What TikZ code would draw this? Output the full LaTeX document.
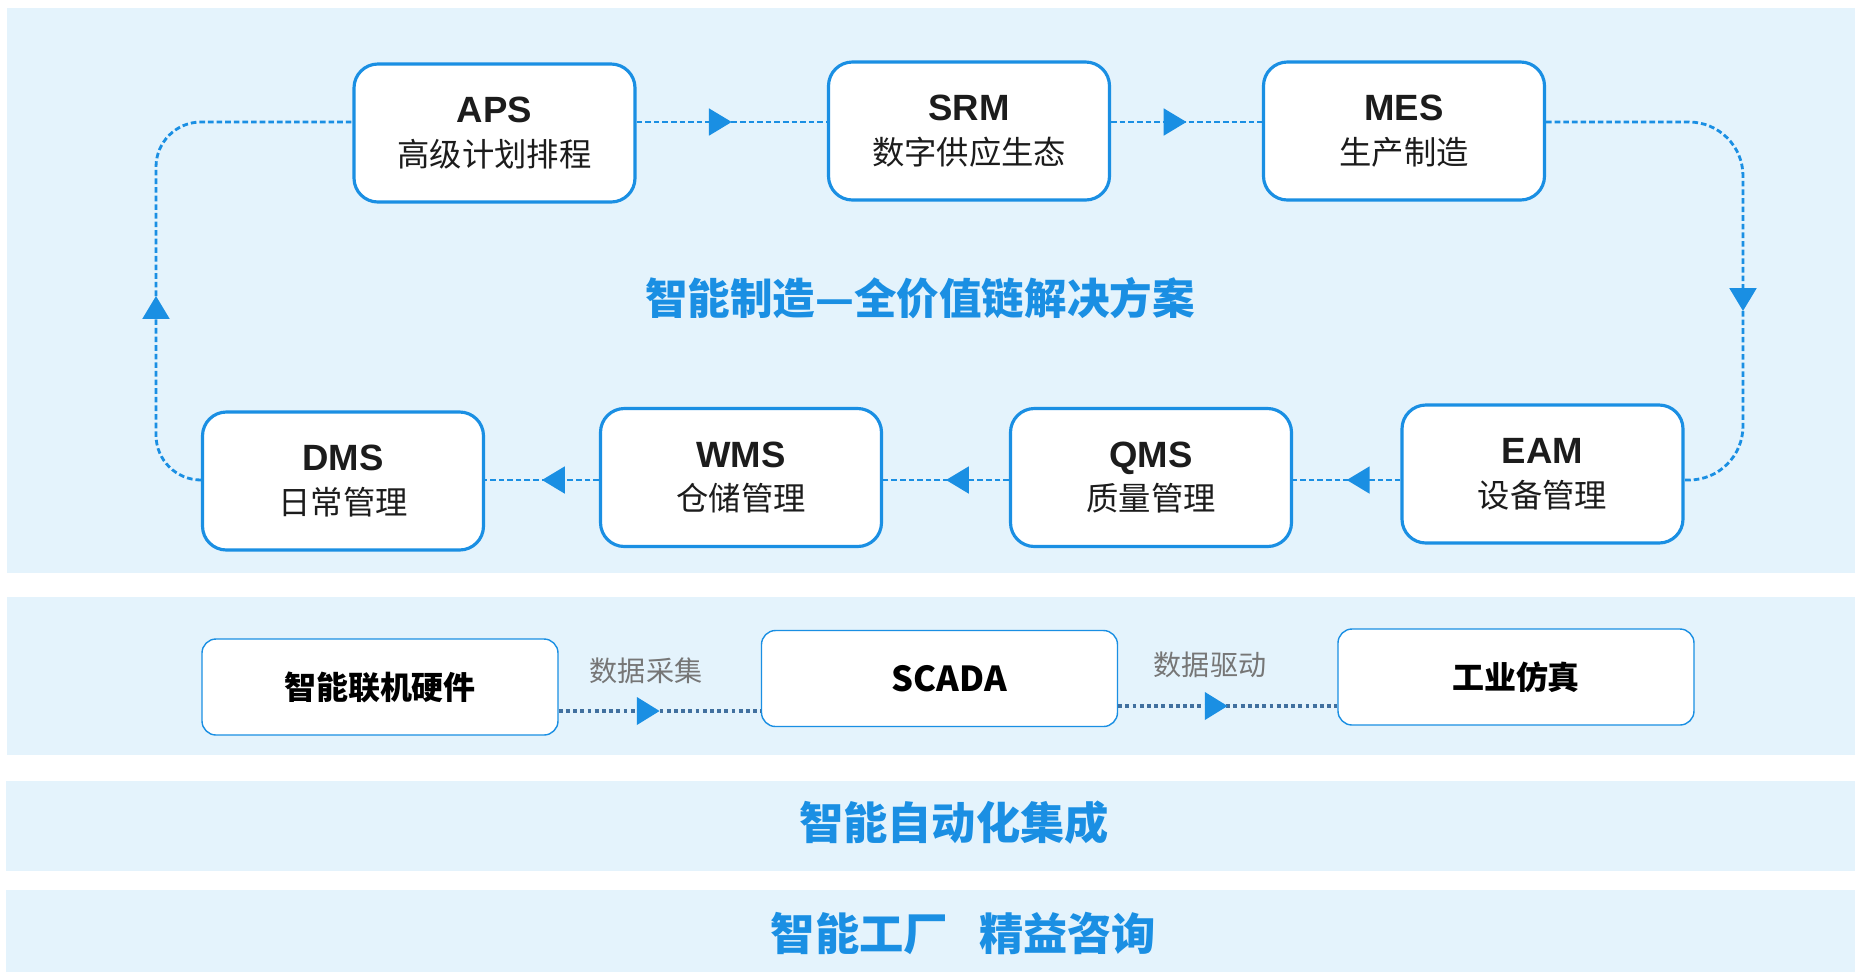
\documentclass[tikz,border=0pt]{standalone}
\usepackage{fontspec}
\setmainfont{Liberation Sans}
\newfontfamily\cjk{Noto Sans CJK SC}
\usetikzlibrary{arrows.meta, positioning, calc, decorations.markings}

\definecolor{panelblue}{HTML}{E4F3FC}
\definecolor{flowblue}{HTML}{1A8FE3}
\definecolor{dotblue}{HTML}{41709F}
\definecolor{notegray}{HTML}{767676}
\definecolor{inkblack}{HTML}{1C1C1C}

\begin{document}
\begin{tikzpicture}[
    modbox/.style={draw=flowblue, line width=0.9pt, fill=white, rounded corners=6.8pt,
        minimum width=2.81cm, minimum height=1.38cm, inner sep=0pt, align=center,
        text=inkblack, font=\cjk\fontsize{9.2}{12.5}\selectfont},
    linkbox/.style={draw=flowblue, line width=0.4pt, fill=white, rounded corners=4pt,
        minimum width=3.56cm, minimum height=0.96cm, inner sep=0pt,
        text=black, font=\cjk\bfseries\fontsize{9.1}{11}\selectfont},
    flowline/.style={flowblue, line width=0.8pt, dash pattern=on 1.6pt off 0.85pt},
    dataline/.style={dotblue, line width=1.3pt, dash pattern=on 1.1pt off 0.95pt},
    midarrow/.style={postaction={decorate}, decoration={markings,
        mark=at position 0.5 with {\arrow{Triangle[length=6.5pt, width=7.6pt, color=flowblue]}}}},
    tip/.style={-{Triangle[length=6.5pt, width=7.6pt]}},
    banner/.style={text=flowblue, font=\cjk\bfseries\fontsize{12.6}{15}\selectfont}
]
    \useasboundingbox (0,0) rectangle (18.55,-9.72);

    % =========================================================
    % BACKGROUND BANDS
    % =========================================================
    \fill[panelblue] (0.07,-0.08) rectangle (18.55,-5.73);
    \fill[panelblue] (0.07,-5.97) rectangle (18.55,-7.55);
    \fill[panelblue] (0.06,-7.81) rectangle (18.55,-8.71);
    \fill[panelblue] (0.06,-8.90) rectangle (18.55,-9.72);

    % lanes the loop runs along
    \coordinate (toplane) at (0,-1.22);
    \coordinate (lowlane) at (0,-4.80);
    \coordinate (rightmid) at (17.43,-3.11);
    \coordinate (leftmid) at (1.56,-2.96);

    % =========================================================
    % VALUE CHAIN MODULES
    % =========================================================
    \node[modbox] (aps) at (4.945,-1.33) {{\rmfamily\bfseries\fontsize{10.4}{12.5}\selectfont APS}\\高级计划排程};
    \node[modbox] (srm) at (9.69,-1.31) {{\rmfamily\bfseries\fontsize{10.4}{12.5}\selectfont SRM}\\数字供应生态};
    \node[modbox] (mes) at (14.04,-1.31) {{\rmfamily\bfseries\fontsize{10.4}{12.5}\selectfont MES}\\生产制造};
    \node[modbox] (dms) at (3.43,-4.81) {{\rmfamily\bfseries\fontsize{10.4}{12.5}\selectfont DMS}\\日常管理};
    \node[modbox] (wms) at (7.41,-4.775) {{\rmfamily\bfseries\fontsize{10.4}{12.5}\selectfont WMS}\\仓储管理};
    \node[modbox] (qms) at (11.51,-4.775) {{\rmfamily\bfseries\fontsize{10.4}{12.5}\selectfont QMS}\\质量管理};
    \node[modbox] (eam) at (15.425,-4.74) {{\rmfamily\bfseries\fontsize{10.4}{12.5}\selectfont EAM}\\设备管理};

    \node[text=flowblue, font=\cjk\bfseries\fontsize{12.1}{14}\selectfont] (chain) at (9.20,-2.98) {智能制造—全价值链解决方案};

    % top row, left to right
    \draw[flowline, midarrow] (aps.east |- toplane) -- (srm.west |- toplane);
    \draw[flowline, midarrow] (srm.east |- toplane) -- (mes.west |- toplane);
    % down the right side
    \draw[flowline, tip, rounded corners=5.4mm] (mes.east |- toplane) -| (rightmid);
    \draw[flowline, rounded corners=5.4mm] (rightmid) |- (eam.east |- lowlane);
    % bottom row, right to left
    \draw[flowline, midarrow] (eam.west |- lowlane) -- (qms.east |- lowlane);
    \draw[flowline, midarrow] (qms.west |- lowlane) -- (wms.east |- lowlane);
    \draw[flowline, midarrow] (wms.west |- lowlane) -- (dms.east |- lowlane);
    % back up the left side
    \draw[flowline, tip, rounded corners=4.5mm] (dms.west |- lowlane) -| (leftmid);
    \draw[flowline, rounded corners=4.5mm] (leftmid) |- (aps.west |- toplane);

    % =========================================================
    % DATA LINK ROW
    % =========================================================
    \node[linkbox] (hw) at (3.80,-6.87) {智能联机硬件};
    \node[linkbox, font=\cjk\bfseries\fontsize{9.8}{12}\selectfont] (scada) at (9.395,-6.785) {\hspace*{0.2cm}SCADA};
    \node[linkbox] (sim) at (15.16,-6.77) {工业仿真};

    \coordinate (datalaneA) at (0,-7.11);
    \coordinate (datalaneB) at (0,-7.06);
    \draw[dataline, midarrow] (hw.east |- datalaneA) -- (scada.west |- datalaneA);
    \draw[dataline, midarrow] (scada.east |- datalaneB) -- (sim.west |- datalaneB);
    \node[text=notegray, font=\cjk\fontsize{8}{10}\selectfont] (collect) at (6.46,-6.71) {数据采集};
    \node[text=notegray, font=\cjk\fontsize{8}{10}\selectfont] (drive) at (12.10,-6.65) {数据驱动};

    % =========================================================
    % LOWER BANDS
    % =========================================================
    \node[banner] (auto) at (9.54,-8.23) {智能自动化集成};
    \node[banner] (lean) at (9.636,-9.33) {智能工厂\hspace{0.7em}精益咨询};
\end{tikzpicture}
\end{document}
